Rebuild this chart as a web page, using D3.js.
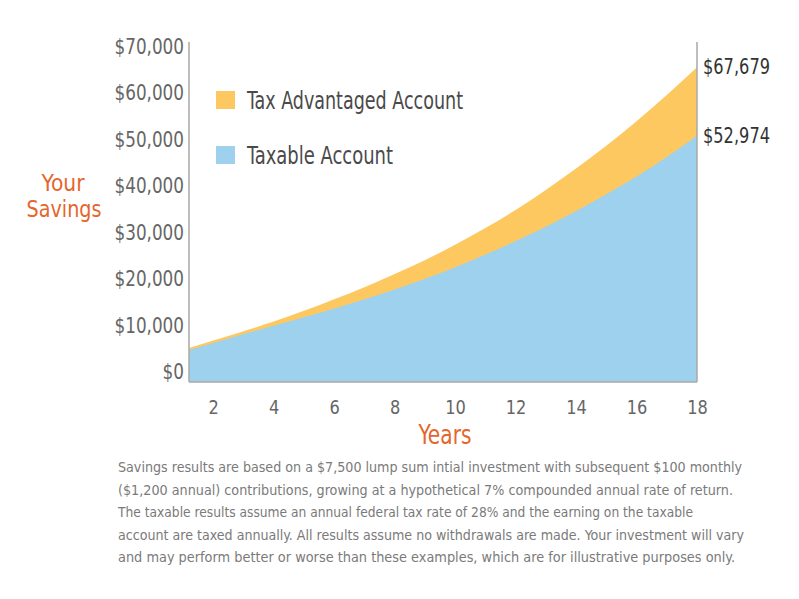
<!DOCTYPE html>
<html>
<head>
<meta charset="utf-8">
<script src="https://cdnjs.cloudflare.com/ajax/libs/d3/7.8.5/d3.min.js"></script>
<style>
  body { margin: 0; background: #fff; }
  text { font-family: "Liberation Sans Narrow", "DejaVu Sans Condensed", "Arial Narrow", sans-serif; }
</style>
</head>
<body>
<div id="chart"></div>
<script>
var chart_width  = 799;
var chart_height = 599;

// Data
var years      = [1, 2, 3, 4, 5, 6, 7, 8, 9, 10, 11, 12, 13, 14, 15, 16, 17, 18];
var taxable    = [6500, 8400, 10300, 12100, 13900, 15800, 17800, 19900, 22200, 24700, 27400, 30300, 33400, 36800, 40400, 44200, 48400, 52974];
var advantaged = [6900, 8900, 10900, 13000, 15300, 17800, 20400, 23200, 26200, 29500, 33100, 37000, 41300, 45900, 50800, 56100, 61700, 67679];
var xTicks     = [2, 4, 6, 8, 10, 12, 14, 16, 18];
var yTicks     = [0, 10000, 20000, 30000, 40000, 50000, 60000, 70000];
var seriesNames = ['Tax Advantaged Account', 'Taxable Account'];
var endLabels  = ['$67,679', '$52,974'];
var footnote = [
  'Savings results are based on a $7,500 lump sum intial investment with subsequent $100 monthly',
  '($1,200 annual) contributions, growing at a hypothetical 7% compounded annual rate of return.',
  'The taxable results assume an annual federal tax rate of 28% and the earning on the taxable',
  'account are taxed annually. All results assume no withdrawals are made. Your investment will vary',
  'and may perform better or worse than these examples, which are for illustrative purposes only.'
];

var yellow = '#fec860';
var blue   = '#9ed1ee';
var orange = '#e4662c';

var left = 189, right = 697, bottom = 382;

var x = d3.scaleLinear()
    .domain([1.2, 18])
    .range([left, right]);

var y = d3.scaleLinear()
    .domain([0, 70000])
    .range([bottom, 56.5]);

var svg = d3.select('#chart')
    .append('svg')
    .attr('width', chart_width)
    .attr('height', chart_height);

svg.append('clipPath')
    .attr('id', 'plot-clip')
  .append('rect')
    .attr('x', left)
    .attr('y', 0)
    .attr('width', right - left)
    .attr('height', bottom);

var rows = years.map(function(d, i){
    return { year: d, taxable: taxable[i], advantaged: advantaged[i] };
});

function areaFor(key){
    return d3.area()
      .curve(d3.curveMonotoneX)
      .x(function(d){ return x(d.year); })
      .y0(y(0))
      .y1(function(d){ return y(d[key]); });
}

// squeeze a text to a share of its natural width
function squeeze(k){
    return function(){
      var w = this.getComputedTextLength();
      d3.select(this)
        .attr('textLength', w * k)
        .attr('lengthAdjust', 'spacingAndGlyphs');
    };
}

var plot = svg.append('g').attr('clip-path', 'url(#plot-clip)');

plot.append('path')
    .datum(rows)
    .attr('d', areaFor('advantaged'))
    .style('fill', yellow);

plot.append('path')
    .datum(rows)
    .attr('d', areaFor('taxable'))
    .style('fill', blue);

// frame lines
svg.append('line')
    .attr('x1', left).attr('x2', left)
    .attr('y1', 42).attr('y2', bottom)
    .style('stroke', '#a8a8a8').style('stroke-width', 1.5);
svg.append('line')
    .attr('x1', right).attr('x2', right)
    .attr('y1', 42).attr('y2', bottom)
    .style('stroke', '#a8a8a8').style('stroke-width', 1.5);
svg.append('line')
    .attr('x1', left).attr('x2', right)
    .attr('y1', bottom).attr('y2', bottom)
    .style('stroke', '#a8a8a8').style('stroke-width', 1.5);

// Axes
var yAxis = svg.append('g')
    .attr('transform', 'translate(' + left + ',0)')
    .call(d3.axisLeft(y)
      .tickValues(yTicks)
      .tickSize(0)
      .tickPadding(5)
      .tickFormat(function(d){ return '$' + d3.format(',')(d); }));
yAxis.select('.domain').remove();
yAxis.selectAll('text')
    .attr('y', -10)
    .style('font-size', '21px')
    .style('fill', '#666')
    .each(squeeze(0.89));

var xAxis = svg.append('g')
    .attr('transform', 'translate(0,' + bottom + ')')
    .call(d3.axisBottom(x)
      .tickValues(xTicks)
      .tickSize(0)
      .tickPadding(18));
xAxis.select('.domain').remove();
xAxis.selectAll('text')
    .style('font-size', '20px')
    .style('fill', '#666')
    .each(squeeze(0.9));

// Titles
svg.append('text')
    .attr('x', 445).attr('y', 444)
    .attr('text-anchor', 'middle')
    .attr('textLength', 53).attr('lengthAdjust', 'spacingAndGlyphs')
    .style('font-size', '27px')
    .style('fill', orange)
    .text('Years');

svg.append('text')
    .attr('x', 63).attr('y', 191)
    .attr('text-anchor', 'middle')
    .attr('textLength', 43).attr('lengthAdjust', 'spacingAndGlyphs')
    .style('font-size', '23px')
    .style('fill', orange)
    .text('Your');
svg.append('text')
    .attr('x', 64).attr('y', 217)
    .attr('text-anchor', 'middle')
    .attr('textLength', 75).attr('lengthAdjust', 'spacingAndGlyphs')
    .style('font-size', '23px')
    .style('fill', orange)
    .text('Savings');

// Legend
var legend = svg.append('g');
var legendColors = [yellow, blue];
var legendWidths = [216, 146];
seriesNames.forEach(function(name, i){
    var cy = 100 + i * 55;
    legend.append('rect')
      .attr('x', 216).attr('y', cy - 9)
      .attr('width', 19).attr('height', 18)
      .style('fill', legendColors[i]);
    legend.append('text')
      .attr('x', 247).attr('y', cy + 8.5)
      .attr('textLength', legendWidths[i]).attr('lengthAdjust', 'spacingAndGlyphs')
      .style('font-size', '24px')
      .style('fill', '#4a4a4a')
      .text(name);
});

// End labels
var endValues = [advantaged[advantaged.length - 1], taxable[taxable.length - 1]];
endValues.forEach(function(v, i){
    svg.append('text')
      .attr('x', 703).attr('y', y(v) + 7)
      .attr('textLength', 67).attr('lengthAdjust', 'spacingAndGlyphs')
      .style('font-size', '21px')
      .style('fill', '#333')
      .text(endLabels[i]);
});

// Footnote
var footWidths = [624, 615, 575, 626, 617];
svg.selectAll('.foot')
    .data(footnote)
    .enter()
    .append('text')
    .attr('class', 'foot')
    .attr('x', 118)
    .attr('y', function(d, i){ return 472 + i * 22.5; })
    .attr('textLength', function(d, i){ return footWidths[i]; })
    .attr('lengthAdjust', 'spacingAndGlyphs')
    .style('font-size', '14.5px')
    .style('fill', '#7a7a7a')
    .text(function(d){ return d; });
</script>
</body>
</html>
